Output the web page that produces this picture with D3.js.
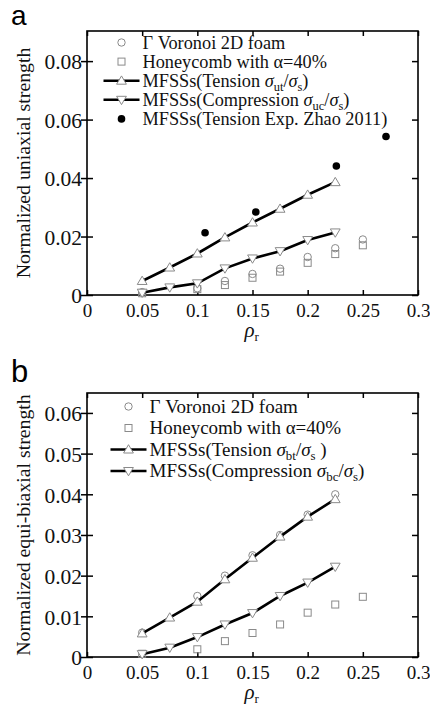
<!DOCTYPE html>
<html>
<head>
<meta charset="utf-8">
<script src="https://cdn.jsdelivr.net/npm/d3@7"></script>
<style>
  body { margin: 0; background: #fff; }
</style>
</head>
<body>
<div id="chart"></div>
<script>

//////////////////////
// Data
//////////////////////

var rhoSim = [0.05, 0.075, 0.1, 0.125, 0.15, 0.175, 0.2, 0.225];
var rhoCell = [0.05, 0.1, 0.125, 0.15, 0.175, 0.2, 0.225, 0.25];

// panel a (uniaxial)
var uniTension = [0.0048, 0.0094, 0.0142, 0.0197, 0.0248, 0.0295, 0.0343, 0.0386];
var uniCompression = [0.0008, 0.0026, 0.004, 0.0091, 0.0125, 0.015, 0.0188, 0.0214];
var uniVoronoi = [0.001, 0.0023, 0.0048, 0.0072, 0.009, 0.013, 0.016, 0.019];
var uniHoneycomb = [0.0006, 0.002, 0.0034, 0.0059, 0.008, 0.011, 0.014, 0.017];
var expRho = [0.107, 0.153, 0.226, 0.271];
var expTension = [0.0213, 0.0284, 0.0441, 0.0542];

// panel b (equi-biaxial)
var rhoVorB = [0.05, 0.1, 0.125, 0.15, 0.175, 0.2, 0.225];
var biTension = [0.0058, 0.0097, 0.0136, 0.0191, 0.0244, 0.0296, 0.0345, 0.0388];
var biCompression = [0.0007, 0.0023, 0.0049, 0.008, 0.0108, 0.015, 0.0183, 0.0222];
var biVoronoi = [0.006, 0.015, 0.02, 0.025, 0.03, 0.035, 0.04];
var biHoneycomb = [0.0008, 0.0019, 0.0039, 0.0059, 0.008, 0.0109, 0.0129, 0.0148];

var xTicks = [0, 0.05, 0.1, 0.15, 0.2, 0.25, 0.3];
var yTicksA = [0, 0.02, 0.04, 0.06, 0.08];
var yTicksB = [0, 0.01, 0.02, 0.03, 0.04, 0.05, 0.06];

var legendA = [
    { type: "circle", parts: [["Γ Voronoi 2D foam"]] },
    { type: "square", parts: [["Honeycomb with α=40%"]] },
    { type: "up", parts: [["MFSSs(Tension "], ["σ", "i"], ["ut", "sub"], ["/"], ["σ", "i"], ["s", "sub"], [")"]] },
    { type: "down", parts: [["MFSSs(Compression "], ["σ", "i"], ["uc", "sub"], ["/"], ["σ", "i"], ["s", "sub"], [")"]] },
    { type: "dot", parts: [["MFSSs(Tension Exp. Zhao 2011)"]] }
];
var legendB = [
    { type: "circle", parts: [["Γ Voronoi 2D foam"]] },
    { type: "square", parts: [["Honeycomb with α=40%"]] },
    { type: "up", parts: [["MFSSs(Tension "], ["σ", "i"], ["bt", "sub"], ["/"], ["σ", "i"], ["s", "sub"], [" )"]] },
    { type: "down", parts: [["MFSSs(Compression "], ["σ", "i"], ["bc", "sub"], ["/"], ["σ", "i"], ["s", "sub"], [")"]] }
];

//////////////////////
// Setup
//////////////////////

var W = 430, H = 707;
var grey = "#8a8a8a";
var SERIF = "'Liberation Serif', 'Times New Roman', serif";

var svg = d3.select("#chart").append("svg")
    .attr("width", W)
    .attr("height", H);

function marker(g, type, x, y) {
    if (type === "circle") {
        g.append("circle").attr("cx", x).attr("cy", y).attr("r", 3.7)
            .attr("fill", "#fff").attr("stroke", grey).attr("stroke-width", 1);
    } else if (type === "square") {
        g.append("rect").attr("x", x - 3.5).attr("y", y - 3.5).attr("width", 7).attr("height", 7)
            .attr("fill", "none").attr("stroke", grey).attr("stroke-width", 1);
    } else if (type === "dot") {
        g.append("circle").attr("cx", x).attr("cy", y).attr("r", 3.8).attr("fill", "#000");
    } else {
        var s = type === "up" ? 1 : -1;
        var p = [[x, y - 4.8 * s], [x - 4.9, y + 3.5 * s], [x + 4.9, y + 3.5 * s]];
        g.append("path").attr("d", "M" + p.join("L") + "Z")
            .attr("fill", "#fff").attr("stroke", grey).attr("stroke-width", 1);
    }
}

function panel(opt) {

    var x = d3.scaleLinear().domain([0, 0.3]).range([opt.left, opt.right]);
    var y = d3.scaleLinear().domain([0, opt.ymax]).range([opt.bottom, opt.top]);
    var g = svg.append("g");

    // ticks (inward)
    g.append("g").attr("transform", "translate(0," + opt.bottom + ")")
        .call(d3.axisBottom(x).tickValues(xTicks).tickSize(-5).tickFormat(function(d) { return d; }))
        .call(function(a) {
            a.attr("font-family", SERIF).attr("font-size", 19);
            a.select(".domain").remove();
            a.selectAll("line").attr("stroke", "#000").attr("stroke-width", 1.5);
            a.selectAll("text").attr("dy", null).attr("y", 22).attr("fill", "#111");
        });
    g.append("g").attr("transform", "translate(0," + opt.top + ")")
        .call(d3.axisTop(x).tickValues(xTicks).tickSize(-5).tickFormat(""))
        .call(function(a) {
            a.select(".domain").remove();
            a.selectAll("line").attr("stroke", "#000").attr("stroke-width", 1.5);
        });
    g.append("g").attr("transform", "translate(" + opt.left + ",0)")
        .call(d3.axisLeft(y).tickValues(opt.yTicks).tickSize(-6).tickFormat(function(d) { return d; }))
        .call(function(a) {
            a.attr("font-family", SERIF).attr("font-size", 21.5);
            a.select(".domain").remove();
            a.selectAll("line").attr("stroke", "#000").attr("stroke-width", 1.5).attr("x1", -6);
            a.selectAll("text").attr("x", -5).attr("dy", "0.36em").attr("fill", "#111");
        });
    g.append("g").attr("transform", "translate(" + opt.right + ",0)")
        .call(d3.axisRight(y).tickValues(opt.yTicks).tickSize(-6).tickFormat(""))
        .call(function(a) {
            a.select(".domain").remove();
            a.selectAll("line").attr("stroke", "#000").attr("stroke-width", 1.5);
        });

    // frame
    g.append("rect")
        .attr("x", opt.left).attr("y", opt.top)
        .attr("width", opt.right - opt.left).attr("height", opt.bottom - opt.top)
        .attr("fill", "none").attr("stroke", "#000").attr("stroke-width", 1.6);

    var line = d3.line().x(function(d) { return x(d[0]); }).y(function(d) { return y(d[1]); });

    // scatter of cell models
    var m = g.append("g");
    d3.zip(opt.vorX, opt.vor).forEach(function(d) { marker(m, "circle", x(d[0]), y(d[1])); });
    d3.zip(rhoCell, opt.honey).forEach(function(d) { marker(m, "square", x(d[0]), y(d[1])); });

    // MFSS curves
    [opt.tension, opt.compression].forEach(function(vals) {
        g.append("path").datum(d3.zip(rhoSim, vals))
            .attr("d", line).attr("fill", "none")
            .attr("stroke", "#000").attr("stroke-width", 2.6);
    });
    d3.zip(rhoSim, opt.tension).forEach(function(d) { marker(g, "up", x(d[0]), y(d[1])); });
    d3.zip(rhoSim, opt.compression).forEach(function(d) { marker(g, "down", x(d[0]), y(d[1])); });

    if (opt.exp) {
        d3.zip(expRho, opt.exp).forEach(function(d) { marker(g, "dot", x(d[0]), y(d[1])); });
    }

    // legend
    var lg = g.append("g").attr("font-family", SERIF);
    opt.legend.forEach(function(item, i) {
        var ly = opt.legY + i * opt.legStep;
        if (item.type === "up" || item.type === "down") {
            lg.append("line").attr("x1", opt.legX - 18).attr("x2", opt.legX + 18)
                .attr("y1", ly).attr("y2", ly).attr("stroke", "#000").attr("stroke-width", 2.6);
        }
        marker(lg, item.type, opt.legX, ly);
        var t = lg.append("text").attr("x", opt.legX + 21).attr("y", ly + 6)
            .attr("fill", "#111").attr("font-size", opt.legFont);
        var shifted = false;
        item.parts.forEach(function(p) {
            var ts = t.append("tspan").text(p[0]);
            if (p[1] === "i") ts.attr("font-style", "italic");
            if (p[1] === "sub") {
                ts.attr("dy", 4).attr("font-size", opt.legFont * 0.68);
                shifted = true;
            } else if (shifted) {
                ts.attr("dy", -4);
                shifted = false;
            }
        });
    });

    // axis titles
    g.append("text")
        .attr("transform", "translate(" + opt.titleX + "," + ((opt.top + opt.bottom) / 2) + ") rotate(-90)")
        .attr("text-anchor", "middle")
        .attr("font-family", SERIF).attr("font-size", 19.8).attr("fill", "#111")
        .text(opt.ytitle);

    var xt = g.append("text")
        .attr("x", (opt.left + opt.right) / 2 - 8).attr("y", opt.bottom + 42)
        .attr("font-family", SERIF).attr("font-size", 21).attr("fill", "#111");
    xt.append("tspan").attr("font-style", "italic").text("ρ");
    xt.append("tspan").attr("dy", 4).attr("font-size", 13).text("r");

    // panel letter
    svg.append("text").attr("x", 11).attr("y", opt.letterY)
        .attr("font-family", "'Liberation Sans', Arial, sans-serif").attr("font-size", opt.letterSize)
        .attr("fill", "#000")
        .text(opt.letter);
}

panel({
    left: 87, right: 418, top: 31, bottom: 295, ymax: 0.0903,
    yTicks: yTicksA,
    tension: uniTension, compression: uniCompression,
    vorX: rhoCell, vor: uniVoronoi, honey: uniHoneycomb, exp: expTension,
    legend: legendA, legX: 121.5, legY: 42.5, legStep: 19.1, legFont: 18.3,
    ytitle: "Normalized uniaxial strength", titleX: 30,
    letter: "a", letterY: 25, letterSize: 28
});

panel({
    left: 87, right: 418, top: 393, bottom: 657, ymax: 0.0649,
    yTicks: yTicksB,
    tension: biTension, compression: biCompression,
    vorX: rhoVorB, vor: biVoronoi, honey: biHoneycomb,
    legend: legendB, legX: 128.5, legY: 406.5, legStep: 21.5, legFont: 19,
    ytitle: "Normalized equi-biaxial strength", titleX: 30,
    letter: "b", letterY: 382, letterSize: 31
});

</script>
</body>
</html>
